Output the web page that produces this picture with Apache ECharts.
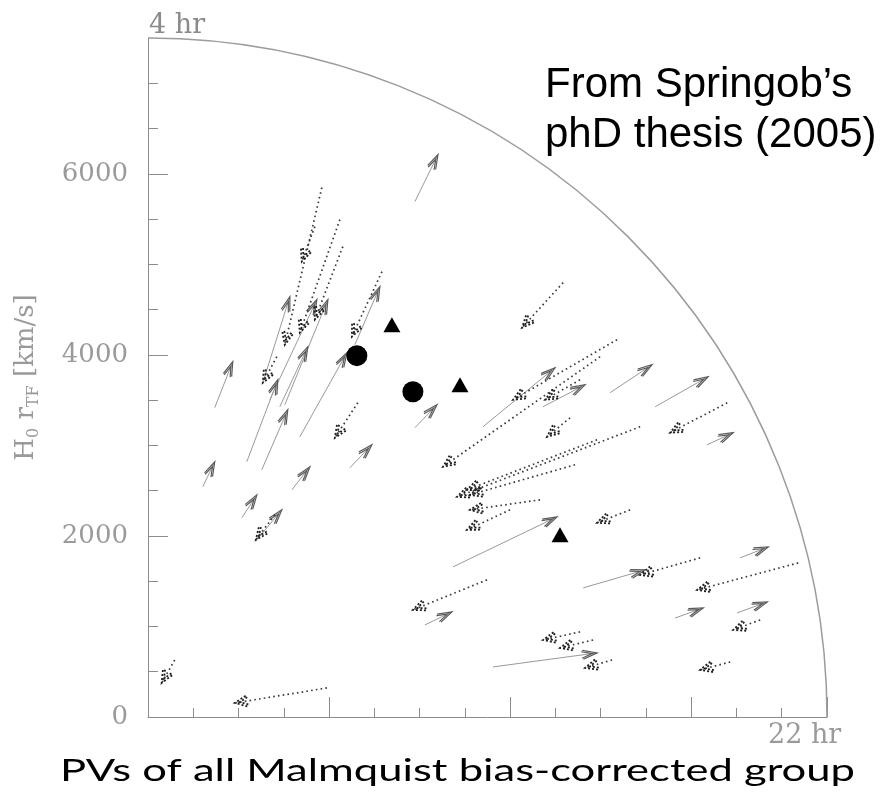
<!DOCTYPE html>
<html>
<head>
<meta charset="utf-8">
<script src="https://cdn.jsdelivr.net/npm/echarts@6/dist/echarts.min.js"></script>
<style>
html,body{margin:0;padding:0;background:#fff;}
#chart{width:889px;height:799px;}
</style>
</head>
<body>
<div id="chart"></div>
<script>
// ---- data (km/s), tail -> tip ----
const outerRadius = [7500];
const yTickValues = [0, 2000, 4000, 6000];
const cornerLabels = ['4 hr', '22 hr'];
const noteLines = ['From Springob\u2019s', 'phD thesis (2005)'];
const captionText = 'PVs of all Malmquist bias-corrected group';

// solid arrows: positive peculiar velocities [x0, y0, x1, y1]
const solidArrows = [
  [1268,3692,1567,4643],
  [1511,3449,1987,4610],
  [1345,3504,1865,4610],
  [2285,4112,2561,4754],
  [737,3416,936,3925],
  [1091,2819,1434,3725],
  [1257,2731,1544,3394],
  [1456,3427,1765,4090],
  [1677,3095,2197,4024],
  [2230,2753,2473,3007],
  [605,2543,737,2819],
  [1589,2509,1788,2764],
  [1036,2200,1202,2454],
  [1202,1957,1478,2288],
  [2948,3195,3192,3449],
  [2948,5693,3203,6213],
  [3700,3206,4496,3858],
  [4363,3427,4828,3670],
  [3369,1658,4518,2211],
  [3059,1017,3357,1161],
  [4806,1426,5491,1625],
  [6541,1758,6851,1879],
  [6508,1150,6840,1271],
  [5823,1094,6133,1205],
  [3811,553,4960,708],
  [6176,3007,6464,3140],
  [5104,3582,5568,3891],
  [5602,3427,6187,3759]
];

// dotted arrows: negative peculiar velocities [x0, y0, x1, y1]
const dottedArrows = [
  [1920,5848,1511,4112],
  [2119,5494,1677,4245],
  [2152,5196,1843,4389],
  [1843,5417,1699,5030],
  [2584,4919,2252,4201],
  [1423,3980,1268,3692],
  [2318,3471,2064,3084],
  [1401,2233,1191,1957],
  [4585,4798,4131,4300],
  [295,630,151,376],
  [1976,321,958,155],
  [4994,3980,3258,2764],
  [4662,3305,4408,3095],
  [4960,3062,3523,2509],
  [5436,3206,3413,2432],
  [5181,4168,4032,3504],
  [4772,3725,4386,3504],
  [4717,2786,3556,2454],
  [4330,2399,3556,2288],
  [3999,2288,3523,2067],
  [5325,2288,4960,2145],
  [3744,1515,2926,1183],
  [6099,1758,5436,1570],
  [7182,1702,6066,1404],
  [6762,1072,6464,962],
  [4772,940,4363,851],
  [4916,851,4551,763],
  [5126,630,4828,542],
  [6431,608,6099,520],
  [6398,3471,5767,3140]
];

const circles = [[2307,3991],[2926,3593]];
const triangles = [[2694,4334],[3446,3670],[4551,2012]];

// ---- rendering ----
const chart = echarts.init(document.getElementById('chart'), null, {renderer:'canvas'});

function makeArrow(dashed) {
  return function (params, api) {
    const a = api.coord([api.value(0), api.value(1)]);
    const b = api.coord([api.value(2), api.value(3)]);
    const ang = Math.atan2(b[1] - a[1], b[0] - a[0]);
    const L = dashed ? 13 : 15, sp = dashed ? 0.42 : 0.30;
    const head = function (tip, len) {
      return [
        [tip[0] - len * Math.cos(ang - sp), tip[1] - len * Math.sin(ang - sp)],
        tip,
        [tip[0] - len * Math.cos(ang + sp), tip[1] - len * Math.sin(ang + sp)]
      ];
    };
    const shaft = dashed
      ? {stroke:'#3a3a3a', lineWidth:1.7, lineDash:[1.6,3.2], fill:null}
      : {stroke:'#9a9a9a', lineWidth:1, fill:null};
    const hs = dashed
      ? {stroke:'#1e1e1e', lineWidth:1.8, lineDash:[2,2], fill:null}
      : {stroke:'#5a5a5a', lineWidth:1.2, fill:null};
    const children = [
      {type:'line', shape:{x1:a[0], y1:a[1], x2:b[0], y2:b[1]}, style:shaft},
      {type:'polyline', shape:{points:head(b, L)}, style:hs}
    ];
    const back = [b[0] - 5 * Math.cos(ang), b[1] - 5 * Math.sin(ang)];
    children.push({type:'polyline', shape:{points:head(back, L - 4)}, style:hs});
    return {type:'group', children: children};
  };
}

function measure(text, font) {
  const c = document.createElement('canvas').getContext('2d');
  c.font = font;
  return c.measureText(text).width;
}
const captionFont = '30px Lato';
const captionScale = 795 / measure(captionText, captionFont);

const axisCol = '#8c8c8c';
const serif = 'DejaVu Serif';

const option = {
  backgroundColor: '#ffffff',
  animation: false,
  grid: {left:148, top:38, width:679, height:679, containLabel:false},
  xAxis: {
    type:'value', min:0, max:outerRadius[0], interval:2000,
    axisLine:{show:true, onZero:false, lineStyle:{color:axisCol, width:1}},
    axisTick:{show:true, inside:true, length:20, lineStyle:{color:axisCol}},
    minorTick:{show:true, splitNumber:4, length:9, lineStyle:{color:axisCol}},
    axisLabel:{show:false},
    splitLine:{show:false}
  },
  yAxis: {
    type:'value', min:0, max:outerRadius[0], interval:2000,
    axisLine:{show:true, onZero:false, lineStyle:{color:axisCol, width:1}},
    axisTick:{show:true, inside:true, length:20, customValues:yTickValues, lineStyle:{color:axisCol}},
    minorTick:{show:true, splitNumber:4, length:10, lineStyle:{color:axisCol}},
    axisLabel:{show:true, customValues:yTickValues, margin:20, fontFamily:serif, fontSize:26, color:'#9a9a9a',
               formatter:function (v) { return String(v); }},
    splitLine:{show:false},
    name:'{a|H}{s|0}{a| r}{s|TF}{a| [km/s]}',
    nameLocation:'middle', nameGap:106, nameRotate:90,
    nameTextStyle:{
      rich:{
        a:{fontFamily:serif, fontSize:26, color:'#9a9a9a', verticalAlign:'middle', lineHeight:32},
        s:{fontFamily:serif, fontSize:16, color:'#9a9a9a', verticalAlign:'bottom'}
      }
    }
  },
  series: [
    {
      type:'custom', name:'frame', coordinateSystem:'cartesian2d', clip:false, silent:true,
      data:[[0,0,outerRadius[0]]],
      encode:{x:0, y:1},
      renderItem:function (params, api) {
        const c = api.coord([api.value(0), api.value(1)]);
        const e = api.coord([api.value(2), api.value(1)]);
        return {type:'arc', shape:{cx:c[0], cy:c[1], r:e[0] - c[0], startAngle:-Math.PI/2, endAngle:0, clockwise:true},
                style:{stroke:'#9c9c9c', lineWidth:1.5, fill:null}};
      }
    },
    {
      type:'custom', name:'solid', coordinateSystem:'cartesian2d', clip:false,
      data:solidArrows, encode:{x:[0,2], y:[1,3]}, renderItem:makeArrow(false)
    },
    {
      type:'custom', name:'dotted', coordinateSystem:'cartesian2d', clip:false,
      data:dottedArrows, encode:{x:[0,2], y:[1,3]}, renderItem:makeArrow(true)
    },
    {
      type:'scatter', name:'circles', data:circles, symbol:'circle', symbolSize:21,
      itemStyle:{color:'#000', opacity:1}
    },
    {
      type:'scatter', name:'triangles', data:triangles, symbol:'triangle', symbolSize:[17,15],
      itemStyle:{color:'#000', opacity:1}
    }
  ],
  graphic: [
    {type:'text', x:149, y:26, style:{text:cornerLabels[0], font:'27px "DejaVu Serif"', fill:'#8a8a8a', textAlign:'left', verticalAlign:'middle'}},
    {type:'text', x:768, y:736, style:{text:cornerLabels[1], font:'27px "DejaVu Serif"', fill:'#9a9a9a', textAlign:'left', verticalAlign:'middle'}},
    {type:'text', x:545, y:85.5, style:{text:noteLines[0], font:'42px "Liberation Sans"', fill:'#000', textAlign:'left', verticalAlign:'middle'}},
    {type:'text', x:545, y:135.5, style:{text:noteLines[1], font:'42px "Liberation Sans"', fill:'#000', textAlign:'left', verticalAlign:'middle'}},
    {type:'text', x:60, y:771, scaleX:captionScale, style:{text:captionText, font:captionFont, fill:'#000', textAlign:'left', verticalAlign:'middle'}}
  ]
};
chart.setOption(option);
</script>
</body>
</html>
